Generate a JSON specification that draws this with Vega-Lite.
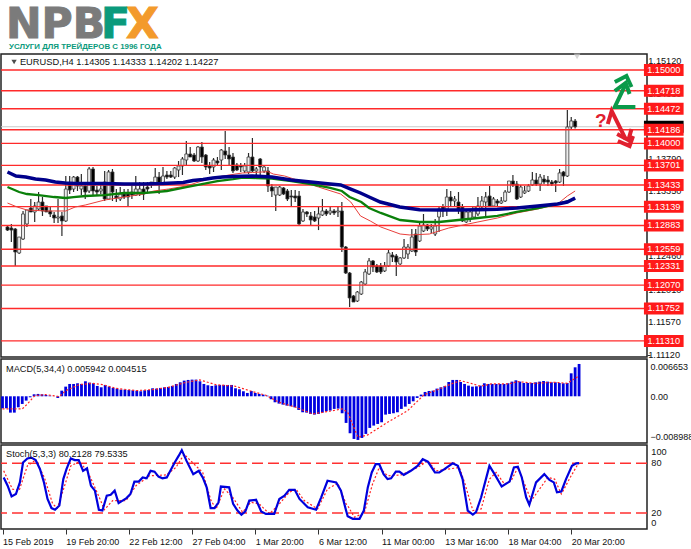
{"$schema":"https://vega.github.io/schema/vega-lite/v6.json","padding":{"left":-2,"top":-1,"right":0,"bottom":0},"background":"white","spacing":2,"bounds":"flush",
"config":{"view":{"stroke":"#222222","strokeWidth":1.5},"axis":{"grid":false,"title":null,"labelFont":"Liberation Sans","labelColor":"#111111","labelFontSize":9,"tickColor":"#333333"},"text":{"font":"Liberation Sans"}},
"datasets":{
"one":[{}],
"levels":[{"price":1.15},{"price":1.14718},{"price":1.14472},{"price":1.14186},{"price":1.14},{"price":1.13701},{"price":1.13433},{"price":1.13139},{"price":1.12883},{"price":1.12559},{"price":1.12331},{"price":1.1207},{"price":1.11752},{"price":1.1131}],
"candles":[
{"t":0,"o":1.12862,"h":1.12876,"l":1.12807,"c":1.1282},{"t":1,"o":1.12848,"h":1.12903,"l":1.12657,"c":1.1282},{"t":2,"o":1.12834,"h":1.12848,"l":1.12331,"c":1.12521},{"t":3,"o":1.12508,"h":1.12725,"l":1.12494,"c":1.12725},{"t":4,"o":1.12698,"h":1.1308,"l":1.12684,"c":1.13039},{"t":5,"o":1.12903,"h":1.13093,"l":1.12862,"c":1.13093},{"t":6,"o":1.1312,"h":1.13243,"l":1.13066,"c":1.13066},{"t":7,"o":1.13066,"h":1.13202,"l":1.1293,"c":1.13148},{"t":8,"o":1.13107,"h":1.13338,"l":1.1308,"c":1.13202},{"t":9,"o":1.13202,"h":1.1327,"l":1.13012,"c":1.1308},
{"t":10,"o":1.13148,"h":1.13148,"l":1.13066,"c":1.13066},{"t":11,"o":1.1308,"h":1.13134,"l":1.12998,"c":1.13039},{"t":12,"o":1.13025,"h":1.13066,"l":1.12916,"c":1.12984},{"t":13,"o":1.12984,"h":1.13243,"l":1.12916,"c":1.12998},{"t":14,"o":1.13012,"h":1.13066,"l":1.12739,"c":1.12944},{"t":15,"o":1.12944,"h":1.13556,"l":1.1293,"c":1.13379},{"t":16,"o":1.13447,"h":1.13556,"l":1.13311,"c":1.13365},{"t":17,"o":1.13379,"h":1.13556,"l":1.13338,"c":1.13542},{"t":18,"o":1.13542,"h":1.13556,"l":1.13352,"c":1.1342},{"t":19,"o":1.13379,"h":1.13583,"l":1.13297,"c":1.1342},
{"t":20,"o":1.1342,"h":1.13447,"l":1.13243,"c":1.13338},{"t":21,"o":1.13352,"h":1.13679,"l":1.13325,"c":1.13652},{"t":22,"o":1.13652,"h":1.13679,"l":1.13284,"c":1.13352},{"t":23,"o":1.13365,"h":1.1342,"l":1.13284,"c":1.13338},{"t":24,"o":1.13352,"h":1.13447,"l":1.13311,"c":1.13379},{"t":25,"o":1.13474,"h":1.13625,"l":1.13216,"c":1.13243},{"t":26,"o":1.13243,"h":1.13638,"l":1.13229,"c":1.13611},{"t":27,"o":1.13611,"h":1.13652,"l":1.13216,"c":1.13338},{"t":28,"o":1.13284,"h":1.13379,"l":1.13202,"c":1.13257},{"t":29,"o":1.13243,"h":1.13406,"l":1.13216,"c":1.13311},
{"t":30,"o":1.13311,"h":1.13379,"l":1.13243,"c":1.1327},{"t":31,"o":1.13311,"h":1.13379,"l":1.13148,"c":1.1327},{"t":32,"o":1.13338,"h":1.13461,"l":1.13243,"c":1.13297},{"t":33,"o":1.13297,"h":1.13556,"l":1.13284,"c":1.13379},{"t":34,"o":1.13325,"h":1.13474,"l":1.13284,"c":1.13379},{"t":35,"o":1.13379,"h":1.13474,"l":1.13229,"c":1.13311},{"t":36,"o":1.13406,"h":1.13474,"l":1.13338,"c":1.13379},{"t":37,"o":1.13474,"h":1.13474,"l":1.13393,"c":1.13434},{"t":38,"o":1.13461,"h":1.13665,"l":1.13447,"c":1.13542},{"t":39,"o":1.13542,"h":1.13611,"l":1.13311,"c":1.13461},
{"t":40,"o":1.13447,"h":1.13679,"l":1.13434,"c":1.13556},{"t":41,"o":1.1357,"h":1.13625,"l":1.13515,"c":1.13542},{"t":42,"o":1.1357,"h":1.13625,"l":1.13529,"c":1.13542},{"t":43,"o":1.13542,"h":1.13679,"l":1.13515,"c":1.13665},{"t":44,"o":1.13638,"h":1.13761,"l":1.13542,"c":1.13693},{"t":45,"o":1.13693,"h":1.13815,"l":1.1357,"c":1.13788},{"t":46,"o":1.13774,"h":1.14033,"l":1.13693,"c":1.13856},{"t":47,"o":1.13856,"h":1.13951,"l":1.13815,"c":1.13815},{"t":48,"o":1.13842,"h":1.1387,"l":1.13747,"c":1.13761},{"t":49,"o":1.13761,"h":1.13965,"l":1.13747,"c":1.13951},
{"t":50,"o":1.13951,"h":1.14019,"l":1.13734,"c":1.13815},{"t":51,"o":1.13842,"h":1.13856,"l":1.13638,"c":1.13679},{"t":52,"o":1.13693,"h":1.13747,"l":1.13583,"c":1.13665},{"t":53,"o":1.13679,"h":1.13801,"l":1.13611,"c":1.13774},{"t":54,"o":1.13761,"h":1.13815,"l":1.13693,"c":1.13734},{"t":55,"o":1.13774,"h":1.13924,"l":1.13638,"c":1.1391},{"t":56,"o":1.13897,"h":1.14169,"l":1.13788,"c":1.13842},{"t":57,"o":1.13842,"h":1.13951,"l":1.13693,"c":1.13788},{"t":58,"o":1.13815,"h":1.1387,"l":1.13598,"c":1.13625},{"t":59,"o":1.13706,"h":1.13734,"l":1.13625,"c":1.13638},
{"t":60,"o":1.13693,"h":1.13734,"l":1.13611,"c":1.13679},{"t":61,"o":1.13625,"h":1.13734,"l":1.13598,"c":1.13693},{"t":62,"o":1.13611,"h":1.1387,"l":1.13583,"c":1.13815},{"t":63,"o":1.13815,"h":1.14074,"l":1.13611,"c":1.13625},{"t":64,"o":1.13625,"h":1.13679,"l":1.13515,"c":1.13652},{"t":65,"o":1.13788,"h":1.13801,"l":1.13556,"c":1.13679},{"t":66,"o":1.13625,"h":1.13706,"l":1.13598,"c":1.13679},{"t":67,"o":1.13625,"h":1.13679,"l":1.13338,"c":1.1342},{"t":68,"o":1.13406,"h":1.13447,"l":1.1327,"c":1.13352},{"t":69,"o":1.13297,"h":1.13406,"l":1.1308,"c":1.13406},
{"t":70,"o":1.13297,"h":1.1342,"l":1.13284,"c":1.13406},{"t":71,"o":1.13393,"h":1.13406,"l":1.13297,"c":1.13311},{"t":72,"o":1.13352,"h":1.13379,"l":1.13216,"c":1.13243},{"t":73,"o":1.13284,"h":1.13365,"l":1.13134,"c":1.1327},{"t":74,"o":1.13284,"h":1.13365,"l":1.13202,"c":1.13257},{"t":75,"o":1.13284,"h":1.13352,"l":1.12889,"c":1.12903},{"t":76,"o":1.12944,"h":1.13107,"l":1.1293,"c":1.13066},{"t":77,"o":1.13066,"h":1.1308,"l":1.12998,"c":1.13039},{"t":78,"o":1.13012,"h":1.13066,"l":1.12889,"c":1.12957},{"t":79,"o":1.12998,"h":1.1308,"l":1.1293,"c":1.12944},
{"t":80,"o":1.12984,"h":1.13134,"l":1.1282,"c":1.13039},{"t":81,"o":1.13025,"h":1.13243,"l":1.13012,"c":1.1308},{"t":82,"o":1.1308,"h":1.13107,"l":1.13012,"c":1.13039},{"t":83,"o":1.13053,"h":1.13134,"l":1.13025,"c":1.1308},{"t":84,"o":1.1308,"h":1.13107,"l":1.13025,"c":1.13053},{"t":85,"o":1.13066,"h":1.13134,"l":1.12998,"c":1.1308},{"t":86,"o":1.1308,"h":1.13202,"l":1.12521,"c":1.12589},{"t":87,"o":1.12589,"h":1.12603,"l":1.12222,"c":1.12235},{"t":88,"o":1.12235,"h":1.12249,"l":1.11772,"c":1.11895},{"t":89,"o":1.11922,"h":1.11936,"l":1.1184,"c":1.1184},
{"t":90,"o":1.11854,"h":1.1199,"l":1.1184,"c":1.11976},{"t":91,"o":1.11949,"h":1.12126,"l":1.11936,"c":1.12112},{"t":92,"o":1.12085,"h":1.1229,"l":1.12071,"c":1.12249},{"t":93,"o":1.12222,"h":1.1244,"l":1.12208,"c":1.12399},{"t":94,"o":1.12399,"h":1.12412,"l":1.12249,"c":1.12317},{"t":95,"o":1.12331,"h":1.12358,"l":1.12235,"c":1.12249},{"t":96,"o":1.12331,"h":1.12372,"l":1.12222,"c":1.12249},{"t":97,"o":1.12263,"h":1.12385,"l":1.12249,"c":1.12331},{"t":98,"o":1.12331,"h":1.12562,"l":1.12317,"c":1.12508},{"t":99,"o":1.1248,"h":1.12521,"l":1.12385,"c":1.12453},
{"t":100,"o":1.12467,"h":1.12494,"l":1.12195,"c":1.12385},{"t":101,"o":1.12358,"h":1.12453,"l":1.12344,"c":1.1244},{"t":102,"o":1.1244,"h":1.12698,"l":1.12426,"c":1.12589},{"t":103,"o":1.12494,"h":1.1263,"l":1.12426,"c":1.12589},{"t":104,"o":1.12535,"h":1.12834,"l":1.12521,"c":1.12725},{"t":105,"o":1.12766,"h":1.12834,"l":1.12467,"c":1.12521},{"t":106,"o":1.12671,"h":1.1293,"l":1.12657,"c":1.12875},{"t":107,"o":1.12807,"h":1.13039,"l":1.12793,"c":1.12889},{"t":108,"o":1.12889,"h":1.12903,"l":1.12807,"c":1.12834},{"t":109,"o":1.12834,"h":1.12903,"l":1.1278,"c":1.12862},
{"t":110,"o":1.12766,"h":1.12971,"l":1.12739,"c":1.12875},{"t":111,"o":1.12998,"h":1.13134,"l":1.12793,"c":1.13107},{"t":112,"o":1.13134,"h":1.13175,"l":1.12998,"c":1.1308},{"t":113,"o":1.13107,"h":1.13379,"l":1.13012,"c":1.1327},{"t":114,"o":1.1327,"h":1.13352,"l":1.13148,"c":1.13216},{"t":115,"o":1.13216,"h":1.13284,"l":1.13148,"c":1.13243},{"t":116,"o":1.13202,"h":1.13338,"l":1.13039,"c":1.13107},{"t":117,"o":1.13134,"h":1.13175,"l":1.1293,"c":1.12944},{"t":118,"o":1.1293,"h":1.13107,"l":1.12916,"c":1.13066},{"t":119,"o":1.12971,"h":1.1308,"l":1.1293,"c":1.13066},
{"t":120,"o":1.12998,"h":1.13148,"l":1.12971,"c":1.13134},{"t":121,"o":1.13039,"h":1.1327,"l":1.13012,"c":1.13148},{"t":122,"o":1.13134,"h":1.13284,"l":1.13107,"c":1.13216},{"t":123,"o":1.13202,"h":1.13338,"l":1.12998,"c":1.1327},{"t":124,"o":1.13284,"h":1.1342,"l":1.13148,"c":1.13148},{"t":125,"o":1.13148,"h":1.1327,"l":1.13134,"c":1.13243},{"t":126,"o":1.13216,"h":1.13243,"l":1.13148,"c":1.13188},{"t":127,"o":1.13188,"h":1.1327,"l":1.13175,"c":1.13216},{"t":128,"o":1.13216,"h":1.13365,"l":1.13202,"c":1.13338},{"t":129,"o":1.13338,"h":1.13488,"l":1.13325,"c":1.13488},
{"t":130,"o":1.13488,"h":1.1357,"l":1.13406,"c":1.13434},{"t":131,"o":1.13447,"h":1.13488,"l":1.13229,"c":1.13243},{"t":132,"o":1.1327,"h":1.13434,"l":1.13257,"c":1.13406},{"t":133,"o":1.13325,"h":1.1342,"l":1.13311,"c":1.13352},{"t":134,"o":1.13352,"h":1.13447,"l":1.13338,"c":1.1342},{"t":135,"o":1.13434,"h":1.13611,"l":1.1342,"c":1.13502},{"t":136,"o":1.13502,"h":1.13598,"l":1.1342,"c":1.13447},{"t":137,"o":1.13447,"h":1.13583,"l":1.13352,"c":1.13542},{"t":138,"o":1.13515,"h":1.1357,"l":1.13447,"c":1.13474},{"t":139,"o":1.13502,"h":1.13556,"l":1.1342,"c":1.13474},
{"t":140,"o":1.13474,"h":1.13502,"l":1.1342,"c":1.13447},{"t":141,"o":1.13488,"h":1.13502,"l":1.13338,"c":1.13461},{"t":142,"o":1.13474,"h":1.13652,"l":1.13461,"c":1.13598},{"t":143,"o":1.13611,"h":1.13625,"l":1.1342,"c":1.13556},{"t":144,"o":1.13556,"h":1.14455,"l":1.13542,"c":1.14224},{"t":145,"o":1.14224,"h":1.1436,"l":1.14196,"c":1.14306},{"t":146,"o":1.14305,"h":1.14333,"l":1.14202,"c":1.14227}],
"maBlue":[{"t":0,"p":1.13611},{"t":2.2,"p":1.13556},{"t":4.7,"p":1.13542},{"t":7.2,"p":1.13515},{"t":9.8,"p":1.13502},{"t":12.3,"p":1.13474},{"t":14.8,"p":1.13461},{"t":17.4,"p":1.13454},{"t":25,"p":1.13454},{"t":30,"p":1.13447},{"t":35,"p":1.13447},{"t":40,"p":1.13454},{"t":45.2,"p":1.13468},{"t":47.7,"p":1.13495},{"t":50.3,"p":1.13509},{"t":52.8,"p":1.13529},{"t":55.3,"p":1.13542},{"t":57.9,"p":1.13549},{"t":63,"p":1.13556},{"t":68,"p":1.13542},{"t":73,"p":1.13502},{"t":78,"p":1.13474},{"t":83,"p":1.13447},{"t":85.7,"p":1.13434},{"t":88.3,"p":1.13379},{"t":90.8,"p":1.13325},{"t":93.3,"p":1.13263},{"t":95.9,"p":1.13202},{"t":98.4,"p":1.13168},{"t":100.9,"p":1.13134},{"t":106,"p":1.13097},{"t":111,"p":1.13093},{"t":116,"p":1.13093},{"t":121,"p":1.13097},{"t":126,"p":1.13103},{"t":131,"p":1.1312},{"t":136.4,"p":1.13148},{"t":141.5,"p":1.13175},{"t":144,"p":1.13202},{"t":146,"p":1.13257}],
"maGreen":[{"t":0,"p":1.13406},{"t":3,"p":1.13338},{"t":5,"p":1.13311},{"t":8,"p":1.13297},{"t":12,"p":1.1327},{"t":15,"p":1.13257},{"t":17,"p":1.1327},{"t":20,"p":1.13284},{"t":25,"p":1.13297},{"t":30,"p":1.13325},{"t":35,"p":1.13325},{"t":38,"p":1.13338},{"t":41,"p":1.13352},{"t":46,"p":1.13406},{"t":50,"p":1.13447},{"t":54,"p":1.13488},{"t":58,"p":1.13515},{"t":60.5,"p":1.13536},{"t":64,"p":1.13529},{"t":68,"p":1.13522},{"t":73,"p":1.13488},{"t":78,"p":1.13447},{"t":83,"p":1.13393},{"t":86,"p":1.13352},{"t":88,"p":1.1327},{"t":91,"p":1.13202},{"t":93,"p":1.1312},{"t":96,"p":1.13053},{"t":101,"p":1.12957},{"t":106,"p":1.1293},{"t":111,"p":1.1293},{"t":116,"p":1.12957},{"t":121,"p":1.12984},{"t":126,"p":1.13012},{"t":131,"p":1.13066},{"t":136.5,"p":1.1312},{"t":141.5,"p":1.13175},{"t":146,"p":1.13243}],
"maRed":[{"t":0,"p":1.13188},{"t":2.5,"p":1.13134},{"t":5,"p":1.13093},{"t":10,"p":1.1308},{"t":15,"p":1.1308},{"t":17.4,"p":1.13134},{"t":20,"p":1.13161},{"t":25,"p":1.13229},{"t":30,"p":1.1327},{"t":35,"p":1.13311},{"t":37.6,"p":1.13352},{"t":41.4,"p":1.13379},{"t":46,"p":1.1342},{"t":50,"p":1.13488},{"t":54,"p":1.13542},{"t":57,"p":1.1357},{"t":60.4,"p":1.13597},{"t":63,"p":1.13604},{"t":67,"p":1.13615},{"t":68.4,"p":1.13583},{"t":71.3,"p":1.13556},{"t":80,"p":1.13406},{"t":85.7,"p":1.13311},{"t":88.3,"p":1.13202},{"t":90.8,"p":1.13012},{"t":93.3,"p":1.12944},{"t":96,"p":1.12862},{"t":101,"p":1.12766},{"t":103.5,"p":1.12753},{"t":108.5,"p":1.12766},{"t":111,"p":1.12807},{"t":113.5,"p":1.12848},{"t":116,"p":1.12875},{"t":121,"p":1.1293},{"t":126,"p":1.12984},{"t":131,"p":1.13053},{"t":136.4,"p":1.13107},{"t":141.5,"p":1.13175},{"t":144,"p":1.13284},{"t":146,"p":1.13352}],
"macd":[{"t":0,"v":-0.00266},{"t":1,"v":-0.00266},{"t":2,"v":-0.00362},{"t":3,"v":-0.00362},{"t":4,"v":-0.00244},{"t":5,"v":-0.0017},{"t":6,"v":-0.00096},{"t":7,"v":-0.00022},{"t":8,"v":0.00044},{"t":9,"v":0.00052},{"t":10,"v":0.00044},{"t":11,"v":0.0003},{"t":12,"v":0.00015},{"t":13,"v":0.00001},{"t":14,"v":-0.00037},{"t":15,"v":0.00125},{"t":16,"v":0.00214},{"t":17,"v":0.00273},{"t":18,"v":0.00273},{"t":19,"v":0.00288},{"t":20,"v":0.00273},{"t":21,"v":0.00332},{"t":22,"v":0.00303},{"t":23,"v":0.00288},{"t":24,"v":0.00229},{"t":25,"v":0.00199},{"t":26,"v":0.00251},{"t":27,"v":0.00214},{"t":28,"v":0.00185},{"t":29,"v":0.0017},{"t":30,"v":0.00148},{"t":31,"v":0.00148},{"t":32,"v":0.0014},{"t":33,"v":0.00133},{"t":34,"v":0.00125},{"t":35,"v":0.00111},{"t":36,"v":0.00133},{"t":37,"v":0.0014},{"t":38,"v":0.00177},{"t":39,"v":0.0017},{"t":40,"v":0.00185},{"t":41,"v":0.00199},{"t":42,"v":0.00207},{"t":43,"v":0.00229},{"t":44,"v":0.00273},{"t":45,"v":0.0031},{"t":46,"v":0.00347},{"t":47,"v":0.00362},{"t":48,"v":0.00369},{"t":49,"v":0.00369},{"t":50,"v":0.00332},{"t":51,"v":0.00273},{"t":52,"v":0.00244},{"t":53,"v":0.00229},{"t":54,"v":0.00244},{"t":55,"v":0.00251},{"t":56,"v":0.00251},{"t":57,"v":0.00251},{"t":58,"v":0.00251},{"t":59,"v":0.00177},{"t":60,"v":0.00155},{"t":61,"v":0.00111},{"t":62,"v":0.00074},{"t":63,"v":0.00118},{"t":64,"v":0.00074},{"t":65,"v":0.00052},{"t":66,"v":0.00037},{"t":67,"v":0.00015},{"t":68,"v":-0.00066},{"t":69,"v":-0.00133},{"t":70,"v":-0.00162},{"t":71,"v":-0.00185},{"t":72,"v":-0.00207},{"t":73,"v":-0.00221},{"t":74,"v":-0.00244},{"t":75,"v":-0.00303},{"t":76,"v":-0.00354},{"t":77,"v":-0.00362},{"t":78,"v":-0.00391},{"t":79,"v":-0.00406},{"t":80,"v":-0.00391},{"t":81,"v":-0.00362},{"t":82,"v":-0.00332},{"t":83,"v":-0.00317},{"t":84,"v":-0.0028},{"t":85,"v":-0.00273},{"t":86,"v":-0.00376},{"t":87,"v":-0.0059},{"t":88,"v":-0.00819},{"t":89,"v":-0.00945},{"t":90,"v":-0.00967},{"t":91,"v":-0.00923},{"t":92,"v":-0.00834},{"t":93,"v":-0.00701},{"t":94,"v":-0.00649},{"t":95,"v":-0.00613},{"t":96,"v":-0.00576},{"t":97,"v":-0.00406},{"t":98,"v":-0.00391},{"t":99,"v":-0.00376},{"t":100,"v":-0.00354},{"t":101,"v":-0.0028},{"t":102,"v":-0.00229},{"t":103,"v":-0.0017},{"t":104,"v":-0.00111},{"t":105,"v":-0.00037},{"t":106,"v":0.00037},{"t":107,"v":0.00096},{"t":108,"v":0.00118},{"t":109,"v":0.00125},{"t":110,"v":0.0017},{"t":111,"v":0.00199},{"t":112,"v":0.00229},{"t":113,"v":0.00317},{"t":114,"v":0.00362},{"t":115,"v":0.00362},{"t":116,"v":0.00317},{"t":117,"v":0.00273},{"t":118,"v":0.00236},{"t":119,"v":0.00214},{"t":120,"v":0.00221},{"t":121,"v":0.00236},{"t":122,"v":0.00288},{"t":123,"v":0.00273},{"t":124,"v":0.00273},{"t":125,"v":0.00273},{"t":126,"v":0.00273},{"t":127,"v":0.00273},{"t":128,"v":0.00288},{"t":129,"v":0.00325},{"t":130,"v":0.00354},{"t":131,"v":0.00325},{"t":132,"v":0.00295},{"t":133,"v":0.00295},{"t":134,"v":0.00295},{"t":135,"v":0.0031},{"t":136,"v":0.00325},{"t":137,"v":0.00339},{"t":138,"v":0.00325},{"t":139,"v":0.0031},{"t":140,"v":0.0031},{"t":141,"v":0.00295},{"t":142,"v":0.00288},{"t":143,"v":0.00295},{"t":144,"v":0.00509},{"t":145,"v":0.00642},{"t":146,"v":0.00716}],
"macdSignal":[{"t":0,"v":-0.0028},{"t":5,"v":-0.0028},{"t":6.3,"v":-0.0017},{"t":8.2,"v":0.00015},{"t":11,"v":0.00037},{"t":14.4,"v":-0.00007},{"t":16,"v":0.00125},{"t":19.4,"v":0.00258},{"t":22.8,"v":0.00288},{"t":25.3,"v":0.00258},{"t":28.7,"v":0.00177},{"t":33.8,"v":0.00125},{"t":38,"v":0.00148},{"t":42,"v":0.00199},{"t":46.5,"v":0.0031},{"t":50,"v":0.00362},{"t":54,"v":0.00258},{"t":59,"v":0.00221},{"t":62.5,"v":0.00125},{"t":66.7,"v":0.00022},{"t":70,"v":-0.00133},{"t":74.3,"v":-0.00244},{"t":78.5,"v":-0.00391},{"t":82.8,"v":-0.00332},{"t":86,"v":-0.0028},{"t":87.4,"v":-0.00354},{"t":90,"v":-0.00908},{"t":92.5,"v":-0.00856},{"t":97.5,"v":-0.00576},{"t":102.6,"v":-0.00317},{"t":106.8,"v":0.00037},{"t":110,"v":0.0014},{"t":113.6,"v":0.00273},{"t":116,"v":0.00347},{"t":118.6,"v":0.00288},{"t":121,"v":0.00221},{"t":123.7,"v":0.00273},{"t":128,"v":0.00273},{"t":130.5,"v":0.00325},{"t":134.7,"v":0.00288},{"t":139.8,"v":0.0031},{"t":143,"v":0.00288},{"t":144.8,"v":0.00384},{"t":146,"v":0.00452}],
"stoch":[{"t":0.3,"s":63},{"t":1.3,"s":53},{"t":2.3,"s":40},{"t":3.4,"s":43},{"t":4.4,"s":57},{"t":5.2,"s":81},{"t":6.3,"s":86},{"t":7.3,"s":87},{"t":8.4,"s":84},{"t":9.5,"s":73},{"t":10.5,"s":57},{"t":11.4,"s":37},{"t":12.4,"s":26},{"t":13.3,"s":24},{"t":14.4,"s":29},{"t":15.4,"s":61},{"t":16.2,"s":73},{"t":17.3,"s":86},{"t":18.3,"s":84},{"t":19.3,"s":84},{"t":20.4,"s":71},{"t":21.4,"s":74},{"t":22.4,"s":53},{"t":23.4,"s":47},{"t":24.4,"s":24},{"t":25.3,"s":23},{"t":26.4,"s":41},{"t":27.4,"s":42},{"t":28.4,"s":47},{"t":29.4,"s":32},{"t":30.4,"s":35},{"t":31.4,"s":38},{"t":32.4,"s":43},{"t":33.4,"s":58},{"t":34.5,"s":58},{"t":35.5,"s":63},{"t":36.5,"s":62},{"t":37.5,"s":71},{"t":38.5,"s":70},{"t":39.5,"s":64},{"t":40.5,"s":62},{"t":41.6,"s":63},{"t":42.6,"s":72},{"t":43.6,"s":81},{"t":44.6,"s":89},{"t":45.4,"s":96},{"t":46.6,"s":83},{"t":48.3,"s":67},{"t":49.7,"s":71},{"t":50.7,"s":63},{"t":51.7,"s":51},{"t":52.7,"s":26},{"t":53.7,"s":26},{"t":54.7,"s":33},{"t":55.3,"s":52},{"t":57.4,"s":51},{"t":58.4,"s":31},{"t":59.5,"s":23},{"t":60.5,"s":18},{"t":61.5,"s":22},{"t":62.5,"s":35},{"t":64.2,"s":36},{"t":65.5,"s":22},{"t":66.7,"s":19},{"t":68.8,"s":19},{"t":70.1,"s":37},{"t":71.4,"s":41},{"t":72.6,"s":48},{"t":74,"s":48},{"t":75.2,"s":37},{"t":77.3,"s":27},{"t":79.4,"s":24},{"t":80.7,"s":39},{"t":82.3,"s":59},{"t":84.5,"s":57},{"t":85.7,"s":47},{"t":87,"s":23},{"t":87.4,"s":16},{"t":88.7,"s":13},{"t":90.4,"s":13},{"t":91.5,"s":23},{"t":92.5,"s":51},{"t":93.5,"s":69},{"t":94.5,"s":79},{"t":95.4,"s":79},{"t":96.5,"s":67},{"t":97.5,"s":61},{"t":98.4,"s":62},{"t":99.6,"s":70},{"t":100.5,"s":70},{"t":101.6,"s":66},{"t":103.4,"s":71},{"t":105.1,"s":77},{"t":106.4,"s":85},{"t":107.7,"s":82},{"t":109.5,"s":69},{"t":110.6,"s":69},{"t":111.9,"s":73},{"t":114,"s":80},{"t":115.3,"s":77},{"t":116.5,"s":61},{"t":117.8,"s":23},{"t":119.1,"s":18},{"t":119.9,"s":21},{"t":121.2,"s":39},{"t":123.3,"s":77},{"t":124.6,"s":67},{"t":126.4,"s":52},{"t":128.4,"s":58},{"t":129.5,"s":75},{"t":130.5,"s":76},{"t":131.5,"s":63},{"t":132.6,"s":39},{"t":133.4,"s":30},{"t":135.1,"s":57},{"t":137.2,"s":67},{"t":138.5,"s":60},{"t":139.6,"s":57},{"t":140.4,"s":45},{"t":141.5,"s":46},{"t":142.7,"s":61},{"t":144.2,"s":77},{"t":145.3,"s":80},{"t":146,"s":80.2}],
"stochSignal":[{"t":0.3,"s":71},{"t":2.5,"s":49},{"t":4.2,"s":47},{"t":6.3,"s":77},{"t":8.4,"s":84},{"t":10.6,"s":63},{"t":12.7,"s":31},{"t":13.9,"s":26},{"t":15.6,"s":51},{"t":17.3,"s":77},{"t":19.4,"s":82},{"t":21.5,"s":71},{"t":24.5,"s":39},{"t":25.8,"s":24},{"t":27.9,"s":35},{"t":31.3,"s":35},{"t":33.8,"s":53},{"t":37.2,"s":65},{"t":41.4,"s":66},{"t":43.9,"s":75},{"t":46,"s":91},{"t":48.1,"s":81},{"t":50.7,"s":69},{"t":52.8,"s":35},{"t":54.1,"s":25},{"t":56.2,"s":49},{"t":58.3,"s":39},{"t":60.8,"s":21},{"t":62.9,"s":33},{"t":65,"s":31},{"t":67.6,"s":19},{"t":70.1,"s":31},{"t":72.6,"s":45},{"t":74.3,"s":49},{"t":76.4,"s":35},{"t":79.8,"s":25},{"t":82.3,"s":49},{"t":84.9,"s":56},{"t":87,"s":31},{"t":87.4,"s":29},{"t":89.1,"s":15},{"t":91.6,"s":20},{"t":93.7,"s":55},{"t":95.4,"s":75},{"t":97.5,"s":65},{"t":100.9,"s":66},{"t":105.1,"s":75},{"t":107.7,"s":83},{"t":109.8,"s":71},{"t":112.7,"s":73},{"t":115.7,"s":75},{"t":117,"s":57},{"t":119.1,"s":23},{"t":121.2,"s":25},{"t":123.3,"s":61},{"t":125,"s":69},{"t":127.1,"s":55},{"t":128.8,"s":59},{"t":130.5,"s":75},{"t":132.2,"s":55},{"t":133.9,"s":35},{"t":136,"s":49},{"t":138.1,"s":63},{"t":139.8,"s":61},{"t":141.5,"s":43},{"t":144,"s":65},{"t":145.7,"s":79},{"t":146,"s":79.5}],
"arrowUp":[{"g":"a","k":0,"t":161.5,"p":1.14496},{"g":"a","k":1,"t":156.2,"p":1.14496},{"g":"a","k":2,"t":159,"p":1.14809},{"g":"b","k":0,"t":156.2,"p":1.14837},{"g":"b","k":1,"t":159.2,"p":1.14918},{"g":"b","k":2,"t":160.5,"p":1.14768},{"g":"c","k":0,"t":156.2,"p":1.14714},{"g":"c","k":1,"t":159,"p":1.14823},{"g":"c","k":2,"t":160,"p":1.14673}],
"arrowDown":[{"g":"a","k":0,"t":154.4,"p":1.14265},{"g":"a","k":1,"t":155.4,"p":1.14442},{"g":"a","k":2,"t":159,"p":1.1406},{"g":"b","k":0,"t":156.8,"p":1.14128},{"g":"b","k":1,"t":159.7,"p":1.14047},{"g":"b","k":2,"t":160.5,"p":1.14196},{"g":"c","k":0,"t":157,"p":1.14033},{"g":"c","k":1,"t":160,"p":1.13965},{"g":"c","k":2,"t":160.9,"p":1.14101}],
"priceLabels":[{"t":164.8,"p":1.1512,"label":"1.15120"},{"t":164.8,"p":1.14675,"label":"1.14680"},{"t":164.8,"p":1.1423,"label":"1.14230"},{"t":164.8,"p":1.1379,"label":"1.13790"},{"t":164.8,"p":1.1335,"label":"1.13350"},{"t":164.8,"p":1.129,"label":"1.12900"},{"t":164.8,"p":1.1246,"label":"1.12460"},{"t":164.8,"p":1.1201,"label":"1.12010"},{"t":164.8,"p":1.1157,"label":"1.11570"},{"t":164.8,"p":1.1112,"label":"1.11120"}],
"stochLabels":[{"t":164.3,"s":93.7,"label":"100"},{"t":164.3,"s":80,"label":"80"},{"t":164.3,"s":20,"label":"20"},{"t":164.3,"s":7.8,"label":"0"}]
},
"vconcat":[
{"width":646,"height":53,"view":{"stroke":null},"data":{"name":"one"},
"encoding":{"x":{"datum":0,"type":"quantitative","scale":{"domain":[0,646]},"axis":null},"y":{"datum":0,"type":"quantitative","scale":{"domain":[53,0]},"axis":null}},
"layer":[
{"mark":{"type":"text","text":"NPB","align":"left","baseline":"alphabetic","font":"DejaVu Sans","fontWeight":"bold","fontSize":42.5,"color":"#7b7b7b","stroke":"#7b7b7b","strokeWidth":1},"encoding":{"x":{"datum":5},"y":{"datum":39}}},
{"mark":{"type":"text","text":"X","align":"left","baseline":"alphabetic","font":"DejaVu Sans","fontWeight":"bold","fontSize":42.5,"color":"#f39a2c","stroke":"#f39a2c","strokeWidth":1},"encoding":{"x":{"datum":125},"y":{"datum":39}}},
{"mark":{"type":"text","text":"F","align":"left","baseline":"alphabetic","font":"DejaVu Sans","fontWeight":"bold","fontSize":42.5,"color":"#0a9a7c","stroke":"#0a9a7c","strokeWidth":1},"encoding":{"x":{"datum":100},"y":{"datum":39}}},
{"mark":{"type":"text","text":"УСЛУГИ ДЛЯ ТРЕЙДЕРОВ С 1996 ГОДА","align":"left","baseline":"middle","font":"Liberation Sans","fontWeight":"bold","fontSize":7.9,"color":"#0a9a7c"},"encoding":{"x":{"datum":8},"y":{"datum":47.5}}}
]},
{"width":646,"height":303,
"encoding":{"x":{"field":"t","type":"quantitative","scale":{"domain":[-0.38,163.2],"nice":false,"zero":false},"axis":null}},
"layer":[
{"data":{"name":"one"},"mark":{"type":"rule","color":"#c8c8c8","strokeWidth":1},"encoding":{"x":{},"y":{"datum":1.14227,"type":"quantitative","scale":{"domain":[1.11091,1.15218],"nice":false,"zero":false},"axis":{"orient":"right","labels":false,"values":[1.1512,1.14675,1.1423,1.1379,1.1335,1.129,1.1246,1.1201,1.1157,1.1112],"tickSize":3,"domain":false}}}},
{"data":{"name":"candles"},"mark":{"type":"rule","color":"#2a2a2a","strokeWidth":1.2},"encoding":{"y":{"field":"h","type":"quantitative"},"y2":{"field":"l"}}},
{"data":{"name":"candles"},"mark":{"type":"bar","size":3,"stroke":"#3a3a3a","strokeWidth":0.8},"encoding":{"y":{"field":"o","type":"quantitative"},"y2":{"field":"c"},"fill":{"condition":{"test":"datum.c>datum.o","value":"#ececec"},"value":"#000000"}}},
{"data":{"name":"levels"},"mark":{"type":"rule","color":"#ff2a2a","strokeWidth":1.4},"encoding":{"x":{},"y":{"field":"price","type":"quantitative"}}},
{"data":{"name":"maRed"},"mark":{"type":"line","color":"#e8403c","strokeWidth":1},"encoding":{"y":{"field":"p","type":"quantitative"}}},
{"data":{"name":"maGreen"},"mark":{"type":"line","color":"#0a800a","strokeWidth":2.3},"encoding":{"y":{"field":"p","type":"quantitative"}}},
{"data":{"name":"maBlue"},"mark":{"type":"line","color":"#00008b","strokeWidth":3.5},"encoding":{"y":{"field":"p","type":"quantitative"}}},
{"data":{"name":"arrowUp"},"mark":{"type":"line","color":"#0a9a4a","strokeWidth":4},"encoding":{"y":{"field":"p","type":"quantitative"},"detail":{"field":"g"},"order":{"field":"k"}}},
{"data":{"name":"arrowDown"},"mark":{"type":"line","color":"#e0202e","strokeWidth":4},"encoding":{"y":{"field":"p","type":"quantitative"},"detail":{"field":"g"},"order":{"field":"k"}}},
{"data":{"values":[{"t":152.6,"p":1.14305}]},"mark":{"type":"text","text":"?","fontSize":19,"fontWeight":"bold","color":"#e0202e","baseline":"middle"},"encoding":{"y":{"field":"p","type":"quantitative"}}},
{"data":{"values":[{"t":146.5,"p":1.15185}]},"mark":{"type":"point","shape":"triangle-down","size":45,"filled":true,"color":"#c4c4c4"},"encoding":{"y":{"field":"p","type":"quantitative"}}},
{"data":{"values":[{"t":1.7,"p":1.15109}]},"mark":{"type":"point","shape":"triangle-down","size":28,"filled":true,"color":"#000000"},"encoding":{"y":{"field":"p","type":"quantitative"}}},
{"data":{"values":[{"t":3.2,"p":1.15109}]},"mark":{"type":"text","text":"EURUSD,H4  1.14305 1.14333 1.14202 1.14227","align":"left","baseline":"middle","fontSize":9.3,"color":"#111111"},"encoding":{"y":{"field":"p","type":"quantitative"}}},
{"data":{"name":"priceLabels"},"mark":{"type":"text","align":"left","baseline":"middle","fontSize":9.2,"color":"#111111"},"encoding":{"y":{"field":"p","type":"quantitative"},"text":{"field":"label"}}},
{"data":{"values":[{"t":163.7,"t2":173.9,"p":1.14227}]},"mark":{"type":"rule","strokeWidth":12,"color":"#000000"},"encoding":{"x2":{"field":"t2"},"y":{"field":"p","type":"quantitative"}}},
{"data":{"name":"levels"},"transform":[{"calculate":"163.7","as":"t"},{"calculate":"173.9","as":"t2"}],"mark":{"type":"rule","strokeWidth":12,"color":"#ff1a1a"},"encoding":{"x2":{"field":"t2"},"y":{"field":"price","type":"quantitative"}}},
{"data":{"name":"levels"},"transform":[{"calculate":"168.8","as":"t"}],"mark":{"type":"text","color":"white","fontSize":9.2,"baseline":"middle"},"encoding":{"y":{"field":"price","type":"quantitative"},"text":{"field":"price","format":".5f"}}}
]},
{"width":646,"height":84,
"encoding":{"x":{"field":"t","type":"quantitative","scale":{"domain":[-0.38,163.2],"nice":false,"zero":false},"axis":null}},
"layer":[
{"data":{"name":"macd"},"mark":{"type":"rule","color":"#0000e0","strokeWidth":2.8},"encoding":{"y":{"field":"v","type":"quantitative","scale":{"domain":[-0.01035,0.00826],"nice":false,"zero":false},"axis":{"orient":"right","labelOverlap":false,"values":[-0.008988,0,0.006653],"ticks":false,"labelPadding":3,"domain":false,"labelExpr":"datum.value==0?'0.00':format(datum.value,'.6f')"}},"y2":{"datum":0}}},
{"data":{"name":"macdSignal"},"mark":{"type":"line","color":"#ff2020","strokeWidth":1.2,"strokeDash":[2,2]},"encoding":{"y":{"field":"v","type":"quantitative"}}},
{"data":{"values":[{"t":0.9,"v":0.00605}]},"mark":{"type":"text","text":"MACD(5,34,4) 0.005942 0.004515","align":"left","baseline":"middle","fontSize":9.2,"color":"#111111"},"encoding":{"y":{"field":"v","type":"quantitative"}}}
]},
{"width":646,"height":84,
"encoding":{"x":{"field":"t","type":"quantitative","scale":{"domain":[-0.38,163.2],"nice":false,"zero":false},"axis":{"orient":"bottom","labelOverlap":false,"values":[0,16,32,48,64,80,96,112,128,144],"tickSize":5,"domain":false,"labelAlign":"left","labelPadding":3,"labelFontSize":9,"labelExpr":"['15 Feb 2019','19 Feb 20:00','22 Feb 12:00','27 Feb 04:00','1 Mar 20:00','6 Mar 12:00','11 Mar 00:00','13 Mar 16:00','18 Mar 04:00','20 Mar 20:00'][datum.value/16]"}}},
"layer":[
{"data":{"name":"one"},"mark":{"type":"rule","color":"#ff3030","strokeWidth":1.5,"strokeDash":[11,5]},"encoding":{"x":{},"y":{"datum":20,"type":"quantitative","scale":{"domain":[0.7,102.2],"nice":false,"zero":false},"axis":null}}},
{"data":{"name":"one"},"mark":{"type":"rule","color":"#ff3030","strokeWidth":1.5,"strokeDash":[11,5]},"encoding":{"x":{},"y":{"datum":80,"type":"quantitative","axis":null}}},
{"data":{"name":"stochSignal"},"mark":{"type":"line","color":"#ff2020","strokeWidth":1.2,"strokeDash":[2,2]},"encoding":{"y":{"field":"s","type":"quantitative","axis":null}}},
{"data":{"name":"stoch"},"mark":{"type":"line","color":"#0000dd","strokeWidth":2.2},"encoding":{"y":{"field":"s","type":"quantitative","axis":null}}},
{"data":{"values":[{"t":0.9,"s":91.3}]},"mark":{"type":"text","text":"Stoch(5,3,3) 80.2128 79.5335","align":"left","baseline":"middle","fontSize":9.2,"color":"#111111"},"encoding":{"y":{"field":"s","type":"quantitative","axis":null}}},
{"data":{"name":"stochLabels"},"mark":{"type":"text","align":"left","baseline":"middle","fontSize":9.2,"color":"#111111"},"encoding":{"y":{"field":"s","type":"quantitative","axis":null},"text":{"field":"label"}}}
]}
]}
